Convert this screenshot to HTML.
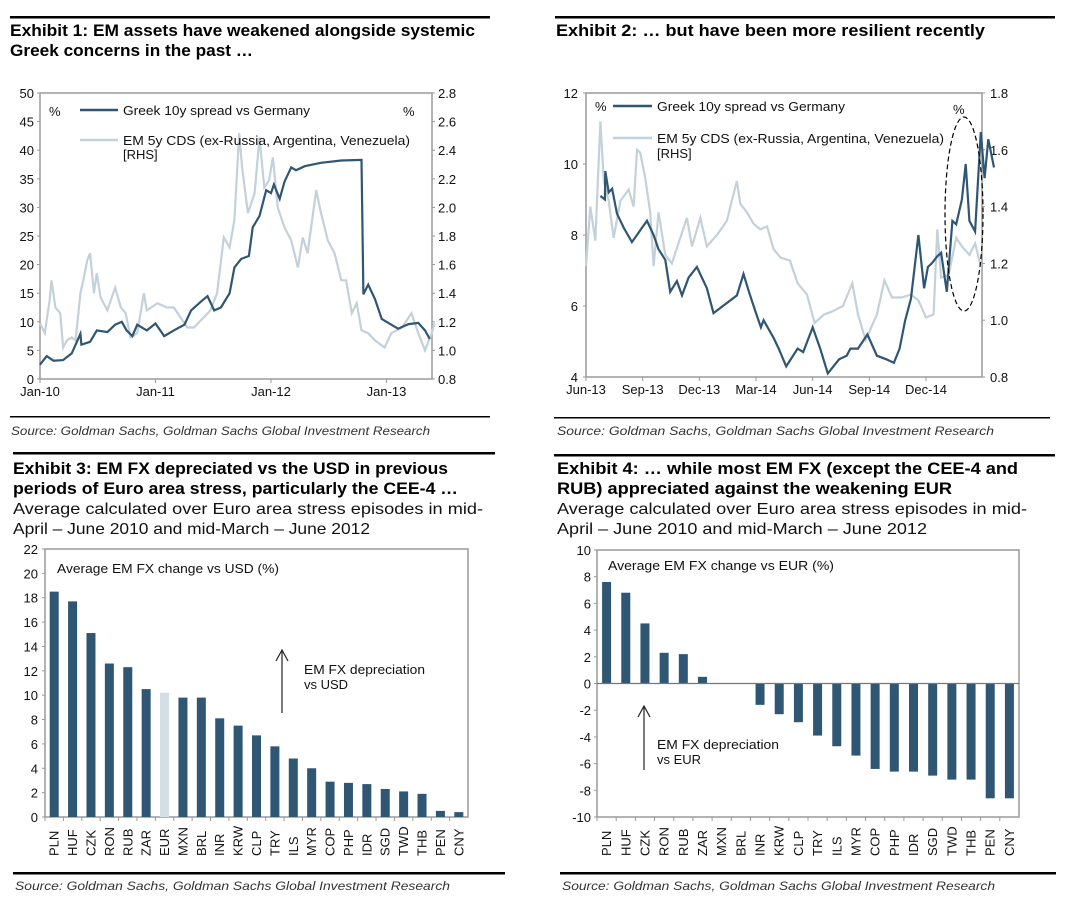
<!DOCTYPE html>
<html><head><meta charset="utf-8">
<style>
html,body{margin:0;padding:0;background:#fff;}
svg{display:block;font-family:"Liberation Sans",Arial,sans-serif;}
.t{font-weight:bold;font-size:17px;fill:#000;}
.s{font-size:16px;fill:#111;}
.src{font-style:italic;font-size:12px;fill:#333;}
.tk{font-size:13px;fill:#111;}
.lg{font-size:13px;fill:#111;}
</style></head><body>
<svg id="c" width="1065" height="904" viewBox="0 0 1065 904">
<g>
<rect x="10" y="16" width="480" height="2.5" fill="#000"/>
<rect x="555" y="16" width="500" height="2.5" fill="#000"/>
<rect x="10" y="416" width="480" height="1.5" fill="#000"/>
<rect x="554" y="417" width="496" height="1.5" fill="#000"/>
<rect x="13" y="452" width="482" height="2.5" fill="#000"/>
<rect x="554" y="454" width="501" height="2.5" fill="#000"/>
<rect x="13" y="872" width="492" height="2.5" fill="#000"/>
<rect x="560" y="872" width="496" height="2.5" fill="#000"/>
</g>
<text class="t" x="10" y="36" textLength="465" lengthAdjust="spacingAndGlyphs">Exhibit 1: EM assets have weakened alongside systemic</text>
<text class="t" x="10" y="56" textLength="243" lengthAdjust="spacingAndGlyphs">Greek concerns in the past …</text>
<text class="t" x="556" y="36" textLength="429" lengthAdjust="spacingAndGlyphs">Exhibit 2: … but have been more resilient recently</text>
<text class="src" x="11" y="435" textLength="419" lengthAdjust="spacingAndGlyphs">Source: Goldman Sachs, Goldman Sachs Global Investment Research</text>
<text class="src" x="557" y="435" textLength="437" lengthAdjust="spacingAndGlyphs">Source:  Goldman Sachs, Goldman Sachs Global Investment Research</text>
<text class="t" x="13" y="474" textLength="435" lengthAdjust="spacingAndGlyphs">Exhibit 3: EM FX depreciated vs the USD in previous</text>
<text class="t" x="13" y="494" textLength="445" lengthAdjust="spacingAndGlyphs">periods of Euro area stress, particularly the CEE-4 …</text>
<text class="s" x="13" y="514" textLength="470" lengthAdjust="spacingAndGlyphs">Average calculated over Euro area stress episodes in mid-</text>
<text class="s" x="13" y="534" textLength="357" lengthAdjust="spacingAndGlyphs">April – June 2010 and mid-March – June 2012</text>
<text class="t" x="557" y="474" textLength="461" lengthAdjust="spacingAndGlyphs">Exhibit 4: … while most EM FX (except the CEE-4 and</text>
<text class="t" x="557" y="494" textLength="395" lengthAdjust="spacingAndGlyphs">RUB) appreciated against the weakening EUR</text>
<text class="s" x="557" y="514" textLength="470" lengthAdjust="spacingAndGlyphs">Average calculated over Euro area stress episodes in mid-</text>
<text class="s" x="557" y="534" textLength="370" lengthAdjust="spacingAndGlyphs">April – June 2010 and mid-March – June 2012</text>
<text class="src" x="15" y="890" textLength="435" lengthAdjust="spacingAndGlyphs">Source: Goldman Sachs, Goldman Sachs Global Investment Research</text>
<text class="src" x="562" y="890" textLength="433" lengthAdjust="spacingAndGlyphs">Source: Goldman Sachs, Goldman Sachs Global Investment Research</text>
</svg>
<script>
// ---- Exhibit 1 data (months since Jan-10)
const g1Months=[0,0.7,1.4,2.4,3.3,4.2,4.3,5.2,5.9,7.0,7.8,8.5,9.0,9.6,10.1,11.1,12.0,12.9,13.9,15.0,15.7,16.7,17.4,18.1,18.8,19.7,20.2,20.9,21.7,22.1,22.8,23.5,24.0,24.3,24.9,25.4,26.1,26.6,27.5,29.2,31.3,33.4,33.6,34.1,34.8,35.5,36.5,37.2,38.3,39.3,40.0,40.5];
const g1Vals=[2.5,4,3.2,3.3,4.5,7.9,6,6.5,8.5,8.2,9.5,10,8.5,7.5,9.5,8.5,9.7,7.5,8.5,9.5,12,13.5,14.5,12,12.5,15,19.5,21,21.5,26.5,28.5,33,32.5,34,31.5,34.5,37,36.5,37.2,37.8,38.2,38.3,14.8,16.5,14,10.5,9.5,8.8,9.6,9.8,8.5,7];
const c1Months=[0,0.5,1.0,1.2,1.6,2.1,2.4,2.8,3.3,3.7,4.2,4.5,4.9,5.2,5.6,5.9,6.3,7.0,7.8,8.4,8.9,9.4,10.1,10.8,11.1,12.2,13.2,13.9,14.8,15.3,16.0,17.0,17.7,18.4,19.1,19.7,20.2,20.7,21.0,21.6,22.3,22.8,23.3,23.8,24.2,24.7,25.4,26.1,26.8,27.3,27.8,28.7,29.2,29.9,30.6,31.3,31.8,32.4,32.9,33.4,34.1,34.8,35.8,36.5,37.6,38.6,39.3,40.0,40.7,41.0];
const c1Vals=[1.19,1.12,1.35,1.49,1.30,1.26,1.02,1.07,1.09,1.07,1.40,1.49,1.63,1.68,1.40,1.54,1.37,1.28,1.44,1.30,1.26,1.09,1.12,1.40,1.28,1.33,1.30,1.30,1.21,1.16,1.16,1.23,1.28,1.40,1.79,1.72,1.91,2.52,2.28,1.96,2.10,2.49,2.14,2.19,2.35,2.00,1.86,1.77,1.58,1.79,1.68,2.12,1.96,1.77,1.68,1.49,1.49,1.26,1.33,1.14,1.12,1.07,1.02,1.12,1.16,1.26,1.12,1.00,1.12,1.19];
const x1Ticks=["Jan-10","Jan-11","Jan-12","Jan-13"];
const y1Left=[0,5,10,15,20,25,30,35,40,45,50];
const y1Right=["0.8","1.0","1.2","1.4","1.6","1.8","2.0","2.2","2.4","2.6","2.8"];
// ---- Exhibit 2 data (months since Jun-13)
const g2Months=[0.76,1.0,1.02,1.2,1.38,1.64,2.0,2.43,2.7,2.96,3.23,3.58,3.84,4.2,4.46,4.81,5.08,5.43,5.87,6.4,6.75,7.99,8.34,8.69,9.0,9.26,9.4,9.93,10.2,10.6,11.2,11.5,12.0,12.4,12.8,13.4,13.8,14.0,14.4,14.9,15.4,15.9,16.3,16.6,16.9,17.2,17.6,17.9,18.1,18.3,18.6,18.8,19.1,19.4,19.6,19.9,20.1,20.3,20.6];
const g2Vals=[9.1,9.0,9.8,9.2,9.3,8.6,8.2,7.8,8.0,8.2,8.4,8.0,7.6,7.3,6.4,6.7,6.3,6.8,7.1,6.5,5.8,6.3,6.9,6.3,5.8,5.4,5.6,5.1,4.8,4.3,4.8,4.7,5.4,4.8,4.1,4.5,4.6,4.8,4.8,5.2,4.6,4.5,4.4,4.8,5.6,6.2,8.0,6.5,7.1,7.2,7.4,7.5,6.4,8.4,8.3,9.0,10.0,8.4,8.1];
const g2MonthsEnd=[20.9,21.1,21.3,21.6];
const g2ValsEnd=[10.9,9.6,10.7,9.9];
const c2Months=[0,0.23,0.49,0.76,0.94,1.2,1.46,1.82,2.26,2.52,2.7,2.87,3.14,3.4,3.58,3.84,4.2,4.55,4.99,5.34,5.61,6.05,6.4,6.93,7.46,7.72,7.99,8.17,8.52,8.87,9.22,9.58,9.93,10.3,10.8,11.2,11.7,12.1,12.6,13.0,13.6,14.1,14.4,14.8,15.4,15.8,16.2,16.7,17.2,17.6,18.0,18.4,18.6,18.8,19.2,19.6,19.9,20.3,20.6,20.9];
const c2Vals=[1.19,1.40,1.28,1.70,1.49,1.42,1.29,1.42,1.46,1.40,1.60,1.59,1.50,1.38,1.19,1.38,1.23,1.20,1.29,1.36,1.26,1.36,1.26,1.30,1.35,1.42,1.49,1.41,1.38,1.34,1.32,1.33,1.25,1.22,1.21,1.13,1.09,0.99,1.02,1.03,1.05,1.13,1.02,0.93,1.02,1.14,1.08,1.08,1.09,1.07,1.01,1.02,1.32,1.15,1.16,1.29,1.26,1.23,1.27,1.19];
const x2Ticks=["Jun-13","Sep-13","Dec-13","Mar-14","Jun-14","Sep-14","Dec-14"];
const y2Left=[4,6,8,10,12];
const y2Right=["0.8","1.0","1.2","1.4","1.6","1.8"];
// ---- Exhibit 3 data
const fx3Cats=["PLN","HUF","CZK","RON","RUB","ZAR","EUR","MXN","BRL","INR","KRW","CLP","TRY","ILS","MYR","COP","PHP","IDR","SGD","TWD","THB","PEN","CNY"];
const fx3Vals=[18.5,17.7,15.1,12.6,12.3,10.5,10.2,9.8,9.8,8.1,7.5,6.7,5.8,4.8,4.0,2.9,2.8,2.7,2.3,2.1,1.9,0.5,0.4];
const y3Ticks=[0,2,4,6,8,10,12,14,16,18,20,22];
// ---- Exhibit 4 data
const fx4Cats=["PLN","HUF","CZK","RON","RUB","ZAR","MXN","BRL","INR","KRW","CLP","TRY","ILS","MYR","COP","PHP","IDR","SGD","TWD","THB","PEN","CNY"];
const fx4Vals=[7.6,6.8,4.5,2.3,2.2,0.5,0,0,-1.6,-2.3,-2.9,-3.9,-4.7,-5.4,-6.4,-6.6,-6.6,-6.9,-7.2,-7.2,-8.6,-8.6];
const y4Ticks=[-10,-8,-6,-4,-2,0,2,4,6,8,10];

const NS="http://www.w3.org/2000/svg";
const svg=document.getElementById('c');
const DARK="#2f5672", LIGHT="#c3d1da";
function mk(tag,attrs,parent){const e=document.createElementNS(NS,tag);for(const k in attrs)e.setAttribute(k,attrs[k]);(parent||svg).appendChild(e);return e;}
function lin(d0,d1,r0,r1){return v=>r0+(v-d0)/(d1-d0)*(r1-r0);}
function frame(g,x0,y0,x1,y1){mk('rect',{x:x0,y:y0,width:x1-x0,height:y1-y0,fill:'none',stroke:'#9a9a9a','stroke-width':1.5},g);}
function pathOf(xs,ys,fx,fy){return xs.map((m,i)=>(i?'L':'M')+fx(m).toFixed(1)+','+fy(ys[i]).toFixed(1)).join('');}

// ===== Exhibit 1
{
 const g=mk('g',{});
 
 
 const L=40,R=432,T=93,B=379;
 const x=lin(0,12,40,155.5), yl=lin(0,50,B,T), yr=lin(0.8,2.8,B,T);
 frame(g,L,T,R,B);
 y1Left.forEach(v=>{const t=mk('text',{x:L-6,y:yl(v)+5,'text-anchor':'end',class:'tk'},g);t.textContent=v;
  
  mk('line',{x1:L-3,x2:L,y1:yl(v),y2:yl(v),stroke:'#999'},g);});
 y1Right.forEach(v=>{const t=mk('text',{x:R+6,y:yr(+v)+5,class:'tk'},g);t.textContent=v;
  
  mk('line',{x1:R,x2:R+3,y1:yr(+v),y2:yr(+v),stroke:'#999'},g);});
 x1Ticks.forEach((s,i)=>{const t=mk('text',{x:x(i*12),y:396,'text-anchor':'middle',class:'tk'},g);t.textContent=s;
  
  mk('line',{x1:x(i*12),x2:x(i*12),y1:B,y2:B+4,stroke:'#999'},g);});
 const p1=mk('path',{d:pathOf(c1Months,c1Vals,x,yr),fill:'none',stroke:LIGHT,'stroke-width':2.2},g);
 
 const p2=mk('path',{d:pathOf(g1Months,g1Vals,x,yl),fill:'none',stroke:DARK,'stroke-width':2.2},g);
 
 mk('text',{x:49,y:116,class:'lg'},g).textContent='%';
 mk('text',{x:403,y:116,class:'lg'},g).textContent='%';
 mk('line',{x1:80,x2:118,y1:110,y2:110,stroke:DARK,'stroke-width':2.5},g);
 const a=mk('text',{x:123,y:115,class:'lg',textLength:187,lengthAdjust:'spacingAndGlyphs'},g);a.textContent='Greek 10y spread vs Germany';
 
 mk('line',{x1:80,x2:118,y1:140,y2:140,stroke:LIGHT,'stroke-width':2.5},g);
 const b=mk('text',{x:123,y:145,class:'lg',textLength:287,lengthAdjust:'spacingAndGlyphs'},g);b.textContent='EM 5y CDS (ex-Russia, Argentina, Venezuela)';
 
 mk('text',{x:123,y:159,class:'lg'},g).textContent='[RHS]';
}
// ===== Exhibit 2
{
 const g=mk('g',{});
 
 
 const L=586,R=982,T=93,B=377;
 const x=lin(0,18,586,926), yl=lin(4,12,B,T), yr=lin(0.8,1.8,B,T);
 frame(g,L,T,R,B);
 y2Left.forEach(v=>{const t=mk('text',{x:L-8,y:yl(v)+5,'text-anchor':'end',class:'tk'},g);t.textContent=v;
  
  mk('line',{x1:L-3,x2:L,y1:yl(v),y2:yl(v),stroke:'#999'},g);});
 y2Right.forEach(v=>{const t=mk('text',{x:R+8,y:yr(+v)+5,class:'tk'},g);t.textContent=v;
  
  mk('line',{x1:R,x2:R+3,y1:yr(+v),y2:yr(+v),stroke:'#999'},g);});
 x2Ticks.forEach((s,i)=>{const t=mk('text',{x:x(i*3),y:394,'text-anchor':'middle',class:'tk'},g);t.textContent=s;
  
  mk('line',{x1:x(i*3),x2:x(i*3),y1:B,y2:B+4,stroke:'#999'},g);});
 const p1=mk('path',{d:pathOf(c2Months,c2Vals,x,yr),fill:'none',stroke:LIGHT,'stroke-width':2.2},g);
 
 const gm=g2Months.concat(g2MonthsEnd), gv=g2Vals.concat(g2ValsEnd);
 const p2=mk('path',{d:pathOf(gm,gv,x,yl),fill:'none',stroke:DARK,'stroke-width':2.2},g);
 
 const el=mk('ellipse',{cx:964,cy:214,rx:19,ry:97,fill:'none',stroke:'#000','stroke-width':1.2,'stroke-dasharray':'5,3'},g);
 
 mk('text',{x:595,y:111,class:'lg'},g).textContent='%';
 mk('text',{x:953,y:114,class:'lg'},g).textContent='%';
 mk('line',{x1:613,x2:652,y1:106,y2:106,stroke:DARK,'stroke-width':2.5},g);
 const a=mk('text',{x:657,y:111,class:'lg',textLength:188,lengthAdjust:'spacingAndGlyphs'},g);a.textContent='Greek 10y spread vs Germany';
 
 mk('line',{x1:613,x2:652,y1:138,y2:138,stroke:LIGHT,'stroke-width':2.5},g);
 const b=mk('text',{x:657,y:143,class:'lg',textLength:287,lengthAdjust:'spacingAndGlyphs'},g);b.textContent='EM 5y CDS (ex-Russia, Argentina, Venezuela)';
 
 mk('text',{x:657,y:158,class:'lg'},g).textContent='[RHS]';
}
// ===== Bar charts
function bars(name,cats,vals,ticks,L,R,T,B,vmin,vmax,color,yLabX){
 const g=mk('g',{});
 
 
 const y=lin(vmin,vmax,B,T), band=(R-L)/cats.length;
 frame(g,L,T,R,B);
 ticks.forEach(v=>{const t=mk('text',{x:yLabX,y:y(v)+5,'text-anchor':'end',class:'tk'},g);t.textContent=v;
  
  mk('line',{x1:L-3,x2:L,y1:y(v),y2:y(v),stroke:'#999'},g);});
 const z=y(Math.max(vmin,0));
 cats.forEach((c,i)=>{
  const cx=L+band*(i+0.5), v=vals[i];
  const r=mk('rect',{x:cx-4.5,y:Math.min(y(v),z),width:9,height:Math.abs(y(v)-z),fill:color(c)},g);
  
  
  mk('line',{x1:L+band*i,x2:L+band*i,y1:B,y2:B+4,stroke:'#999'},g);
  const t=mk('text',{x:0,y:0,transform:`translate(${cx+4.5},${B+39}) rotate(-90)`,class:'tk','font-size':'12',fill:c==='EUR'?'#aab':'#111'},g);
  t.textContent=c;
  
  
 });
 return {g,y};
}
{
 const r=bars('exhibit3-chart',fx3Cats,fx3Vals,y3Ticks,45,468,549,817,0,22,c=>c==='EUR'?'#d3dee5':DARK,38);
 mk('text',{x:57,y:573,class:'lg',textLength:222,lengthAdjust:'spacingAndGlyphs'},r.g).textContent='Average EM FX change vs USD (%)';
 mk('line',{x1:282,x2:282,y1:713,y2:651,stroke:'#222','stroke-width':1.2},r.g);
 mk('path',{d:'M276,661 L282,650 L288,661',fill:'none',stroke:'#222','stroke-width':1.2},r.g);
 mk('text',{x:304,y:674,class:'lg',textLength:121,lengthAdjust:'spacingAndGlyphs'},r.g).textContent='EM FX depreciation';
 mk('text',{x:304,y:689,class:'lg'},r.g).textContent='vs USD';
}
{
 const r=bars('exhibit4-chart',fx4Cats,fx4Vals,y4Ticks,597,1019,550,817,-10,10,c=>DARK,591);
 mk('line',{x1:597,x2:1019,y1:r.y(0),y2:r.y(0),stroke:'#777','stroke-width':1.2},r.g);
 mk('text',{x:608,y:570,class:'lg',textLength:226,lengthAdjust:'spacingAndGlyphs'},r.g).textContent='Average EM FX change vs EUR (%)';
 mk('line',{x1:644,x2:644,y1:770,y2:707,stroke:'#222','stroke-width':1.2},r.g);
 mk('path',{d:'M638,717 L644,706 L650,717',fill:'none',stroke:'#222','stroke-width':1.2},r.g);
 mk('text',{x:657,y:749,class:'lg',textLength:122,lengthAdjust:'spacingAndGlyphs'},r.g).textContent='EM FX depreciation';
 mk('text',{x:657,y:764,class:'lg'},r.g).textContent='vs EUR';
}
</script>
</body></html>
